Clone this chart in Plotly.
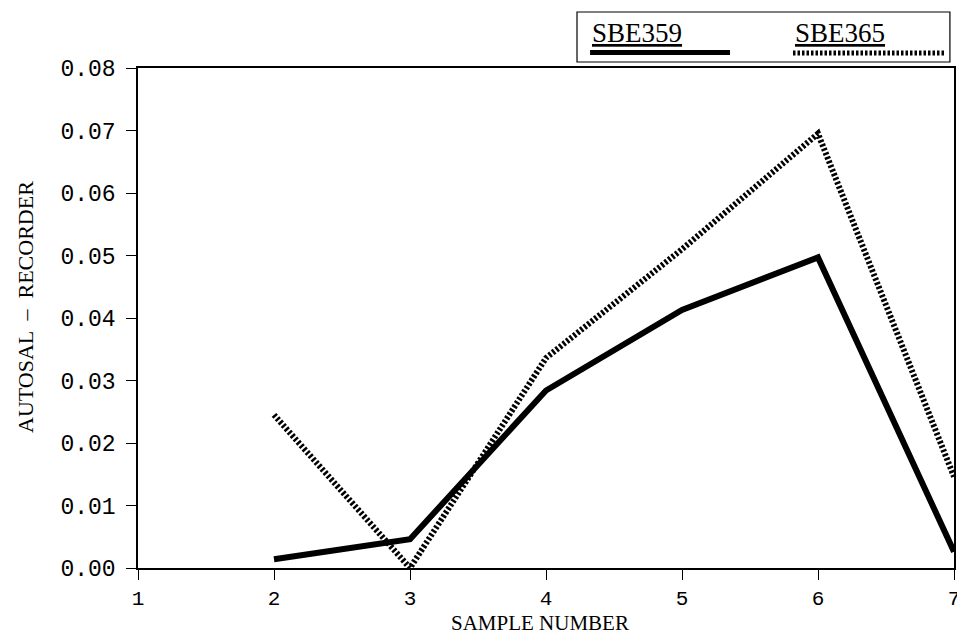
import plotly.graph_objects as go

# Sample numbers and salinity differences (Autosal minus recorder)
sample_number = [2, 3, 4, 5, 6, 7]
sbe359 = [0.0014, 0.0046, 0.0284, 0.0413, 0.0497, 0.0026]
sbe365 = [0.0245, 0.0000, 0.0336, 0.0510, 0.0695, 0.0146]

x_ticks = [1, 2, 3, 4, 5, 6, 7]
y_ticks = [0.00, 0.01, 0.02, 0.03, 0.04, 0.05, 0.06, 0.07, 0.08]

series_names = ["SBE359", "SBE365"]

MONO = "Liberation Mono, Courier New, monospace"
SERIF = "Liberation Serif, Times New Roman, serif"
DOT_DASH = "2.5px,2px"

fig = go.Figure()

fig.add_trace(go.Scatter(
    x=sample_number, y=sbe359, mode="lines", name=series_names[0],
    line=dict(color="black", width=6), cliponaxis=False,
))
fig.add_trace(go.Scatter(
    x=sample_number, y=sbe365, mode="lines", name=series_names[1],
    line=dict(color="black", width=6, dash=DOT_DASH), cliponaxis=False,
))

fig.update_xaxes(
    range=[1, 7], tickvals=x_ticks, ticks="outside", ticklen=10, tickwidth=1,
    tickcolor="black", showline=True, linecolor="black", linewidth=1.5,
    mirror=True, showgrid=False, zeroline=False, ticklabeloverflow="allow",
    automargin=False, tickfont=dict(family=MONO, size=21, color="black"),
)
fig.update_yaxes(
    range=[0, 0.08], tickvals=y_ticks, tickformat=".2f", ticks="outside",
    ticklen=10, tickwidth=1, tickcolor="black", showline=True,
    linecolor="black", linewidth=1.5, mirror=True, showgrid=False,
    zeroline=False, ticklabelstandoff=6, automargin=False,
    tickfont=dict(family=MONO, size=23, color="black"),
)

# Axis titles
fig.add_annotation(
    text="SAMPLE NUMBER", xref="paper", yref="paper", x=0.4926, y=-0.11,
    showarrow=False, font=dict(family=SERIF, size=21, color="black"),
    xanchor="center", yanchor="middle",
)
fig.add_annotation(
    text="AUTOSAL  \u2013  RECORDER", xref="paper", yref="paper", x=-0.1385, y=0.522,
    showarrow=False, textangle=-90, font=dict(family=SERIF, size=22, color="black"),
    xanchor="center", yanchor="middle",
)

# Boxed key above the plot: names underlined, line samples beneath
fig.add_shape(type="rect", xref="paper", yref="paper", x0=0.538, x1=0.995,
              y0=1.012, y1=1.112, line=dict(color="black", width=1.2))
fig.add_annotation(
    text="<u>" + series_names[0] + "</u>", xref="paper", yref="paper", x=0.554, y=1.07,
    showarrow=False, xanchor="left", yanchor="middle",
    font=dict(family=SERIF, size=27, color="black"),
)
fig.add_annotation(
    text="<u>" + series_names[1] + "</u>", xref="paper", yref="paper", x=0.8027, y=1.07,
    showarrow=False, xanchor="left", yanchor="middle",
    font=dict(family=SERIF, size=27, color="black"),
)
fig.add_shape(type="line", xref="paper", yref="paper", x0=0.554, x1=0.7255,
              y0=1.031, y1=1.031, line=dict(color="black", width=5))
fig.add_shape(type="line", xref="paper", yref="paper", x0=0.8027, x1=0.989,
              y0=1.030, y1=1.030, line=dict(color="black", width=5, dash=DOT_DASH))

fig.update_layout(
    width=957, height=637, showlegend=False,
    margin=dict(l=138, r=3, t=68, b=69, autoexpand=False),
    plot_bgcolor="white", paper_bgcolor="white",
)

fig.write_html("out.html")
